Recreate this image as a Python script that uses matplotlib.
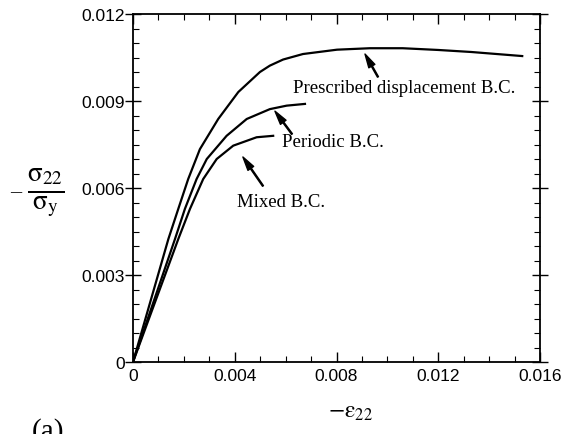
import matplotlib
matplotlib.use('Agg')
import matplotlib.pyplot as plt
from matplotlib.ticker import MultipleLocator, FuncFormatter

plt.rcParams['mathtext.fontset'] = 'stix'
plt.rcParams['font.family'] = ['Liberation Sans', 'DejaVu Sans']

# curves
presc_x = [0, 0.00139, 0.00178, 0.00217, 0.00263, 0.00335, 0.00414, 0.00499, 0.00538,
           0.0059, 0.00668, 0.00802, 0.00931, 0.0106, 0.0120, 0.0133, 0.0153]
presc_y = [0, 0.00424, 0.00528, 0.00631, 0.00734, 0.00838, 0.00931, 0.0100, 0.01022,
           0.01043, 0.01062, 0.01077, 0.01082, 0.01082, 0.01076, 0.01069, 0.01055]

period_x = [0, 0.00165, 0.00204, 0.0025, 0.0029, 0.00368, 0.00447, 0.00538, 0.00604, 0.00676]
period_y = [0, 0.00424, 0.00528, 0.00631, 0.0070, 0.0078, 0.00838, 0.00872, 0.00884, 0.0089]

mixed_x = [0, 0.00178, 0.00224, 0.00276, 0.00329, 0.00394, 0.00486, 0.00551]
mixed_y = [0, 0.00424, 0.00528, 0.00631, 0.0070, 0.00746, 0.00775, 0.0078]

labels = ['Prescribed displacement B.C.', 'Periodic B.C.', 'Mixed B.C.']
label_pos = [(0.00629, 0.00948), (0.00586, 0.00759), (0.00409, 0.00555)]
arrow_tail = [(0.00963, 0.00983), (0.00625, 0.00786), (0.00511, 0.00607)]
arrow_head = [(0.00912, 0.01062), (0.00558, 0.00865), (0.00432, 0.00707)]


def fmt(v, pos):
    if abs(v) < 1e-12:
        return '0'
    return f'{v:.3f}'


fig = plt.figure(figsize=(5.65, 4.35), dpi=100)
ax = fig.add_axes([0.2354, 0.1655, 0.7204, 0.8])

for xs, ys in [(presc_x, presc_y), (period_x, period_y), (mixed_x, mixed_y)]:
    ax.plot(xs, ys, color='black', lw=1.6, solid_joinstyle='round')

for lab, tp, tail, head in zip(labels, label_pos, arrow_tail, arrow_head):
    ax.text(tp[0], tp[1], lab, family=['Liberation Serif', 'DejaVu Serif'],
            fontsize=13.5, ha='left', va='center')
    ax.annotate('', xy=head, xytext=tail,
                arrowprops=dict(facecolor='black', edgecolor='black', width=0.8,
                                headwidth=5, headlength=10, shrink=0))

ax.set_xlim(0, 0.016)
ax.set_ylim(0, 0.012)
ax.xaxis.set_major_locator(MultipleLocator(0.004))
ax.xaxis.set_minor_locator(MultipleLocator(0.001))
ax.yaxis.set_major_locator(MultipleLocator(0.003))
ax.yaxis.set_minor_locator(MultipleLocator(0.0005))
ax.xaxis.set_major_formatter(FuncFormatter(fmt))
ax.yaxis.set_major_formatter(FuncFormatter(fmt))

ax.tick_params(axis='x', which='both', direction='in', top=True, bottom=True, labelsize=12.5, pad=4)
ax.tick_params(axis='x', which='major', length=7, width=1)
ax.tick_params(axis='x', which='minor', length=4, width=0.8)
ax.tick_params(axis='y', which='major', direction='inout', left=True, right=True, length=12,
               width=1, labelsize=12.5, pad=0)
ax.tick_params(axis='y', which='minor', direction='in', left=True, right=True, length=4, width=0.8)
for s in ax.spines.values():
    s.set_linewidth(1.3)

ax.set_xlabel(r'$-\mathrm{\varepsilon}_{22}$', fontsize=17)
ax.xaxis.set_label_coords(0.535, -0.11)
ax.set_ylabel(r'$\frac{\mathrm{\sigma}_{22}}{\mathrm{\sigma}_{\mathrm{y}}}$', fontsize=28,
              rotation=0, va='center', ha='center')
ax.yaxis.set_label_coords(-0.215, 0.487)
# the leading minus of the y label is thinner and shorter than the mathtext one
fig.text(0.027, 0.558, '\u2013', family=['Liberation Serif', 'DejaVu Serif'], fontsize=16,
         ha='center', va='center')

fig.text(0.057, -0.022, '(a)', family=['Liberation Serif', 'DejaVu Serif'], fontsize=21,
         ha='left', va='bottom')

fig.savefig('out.png', dpi=100)
